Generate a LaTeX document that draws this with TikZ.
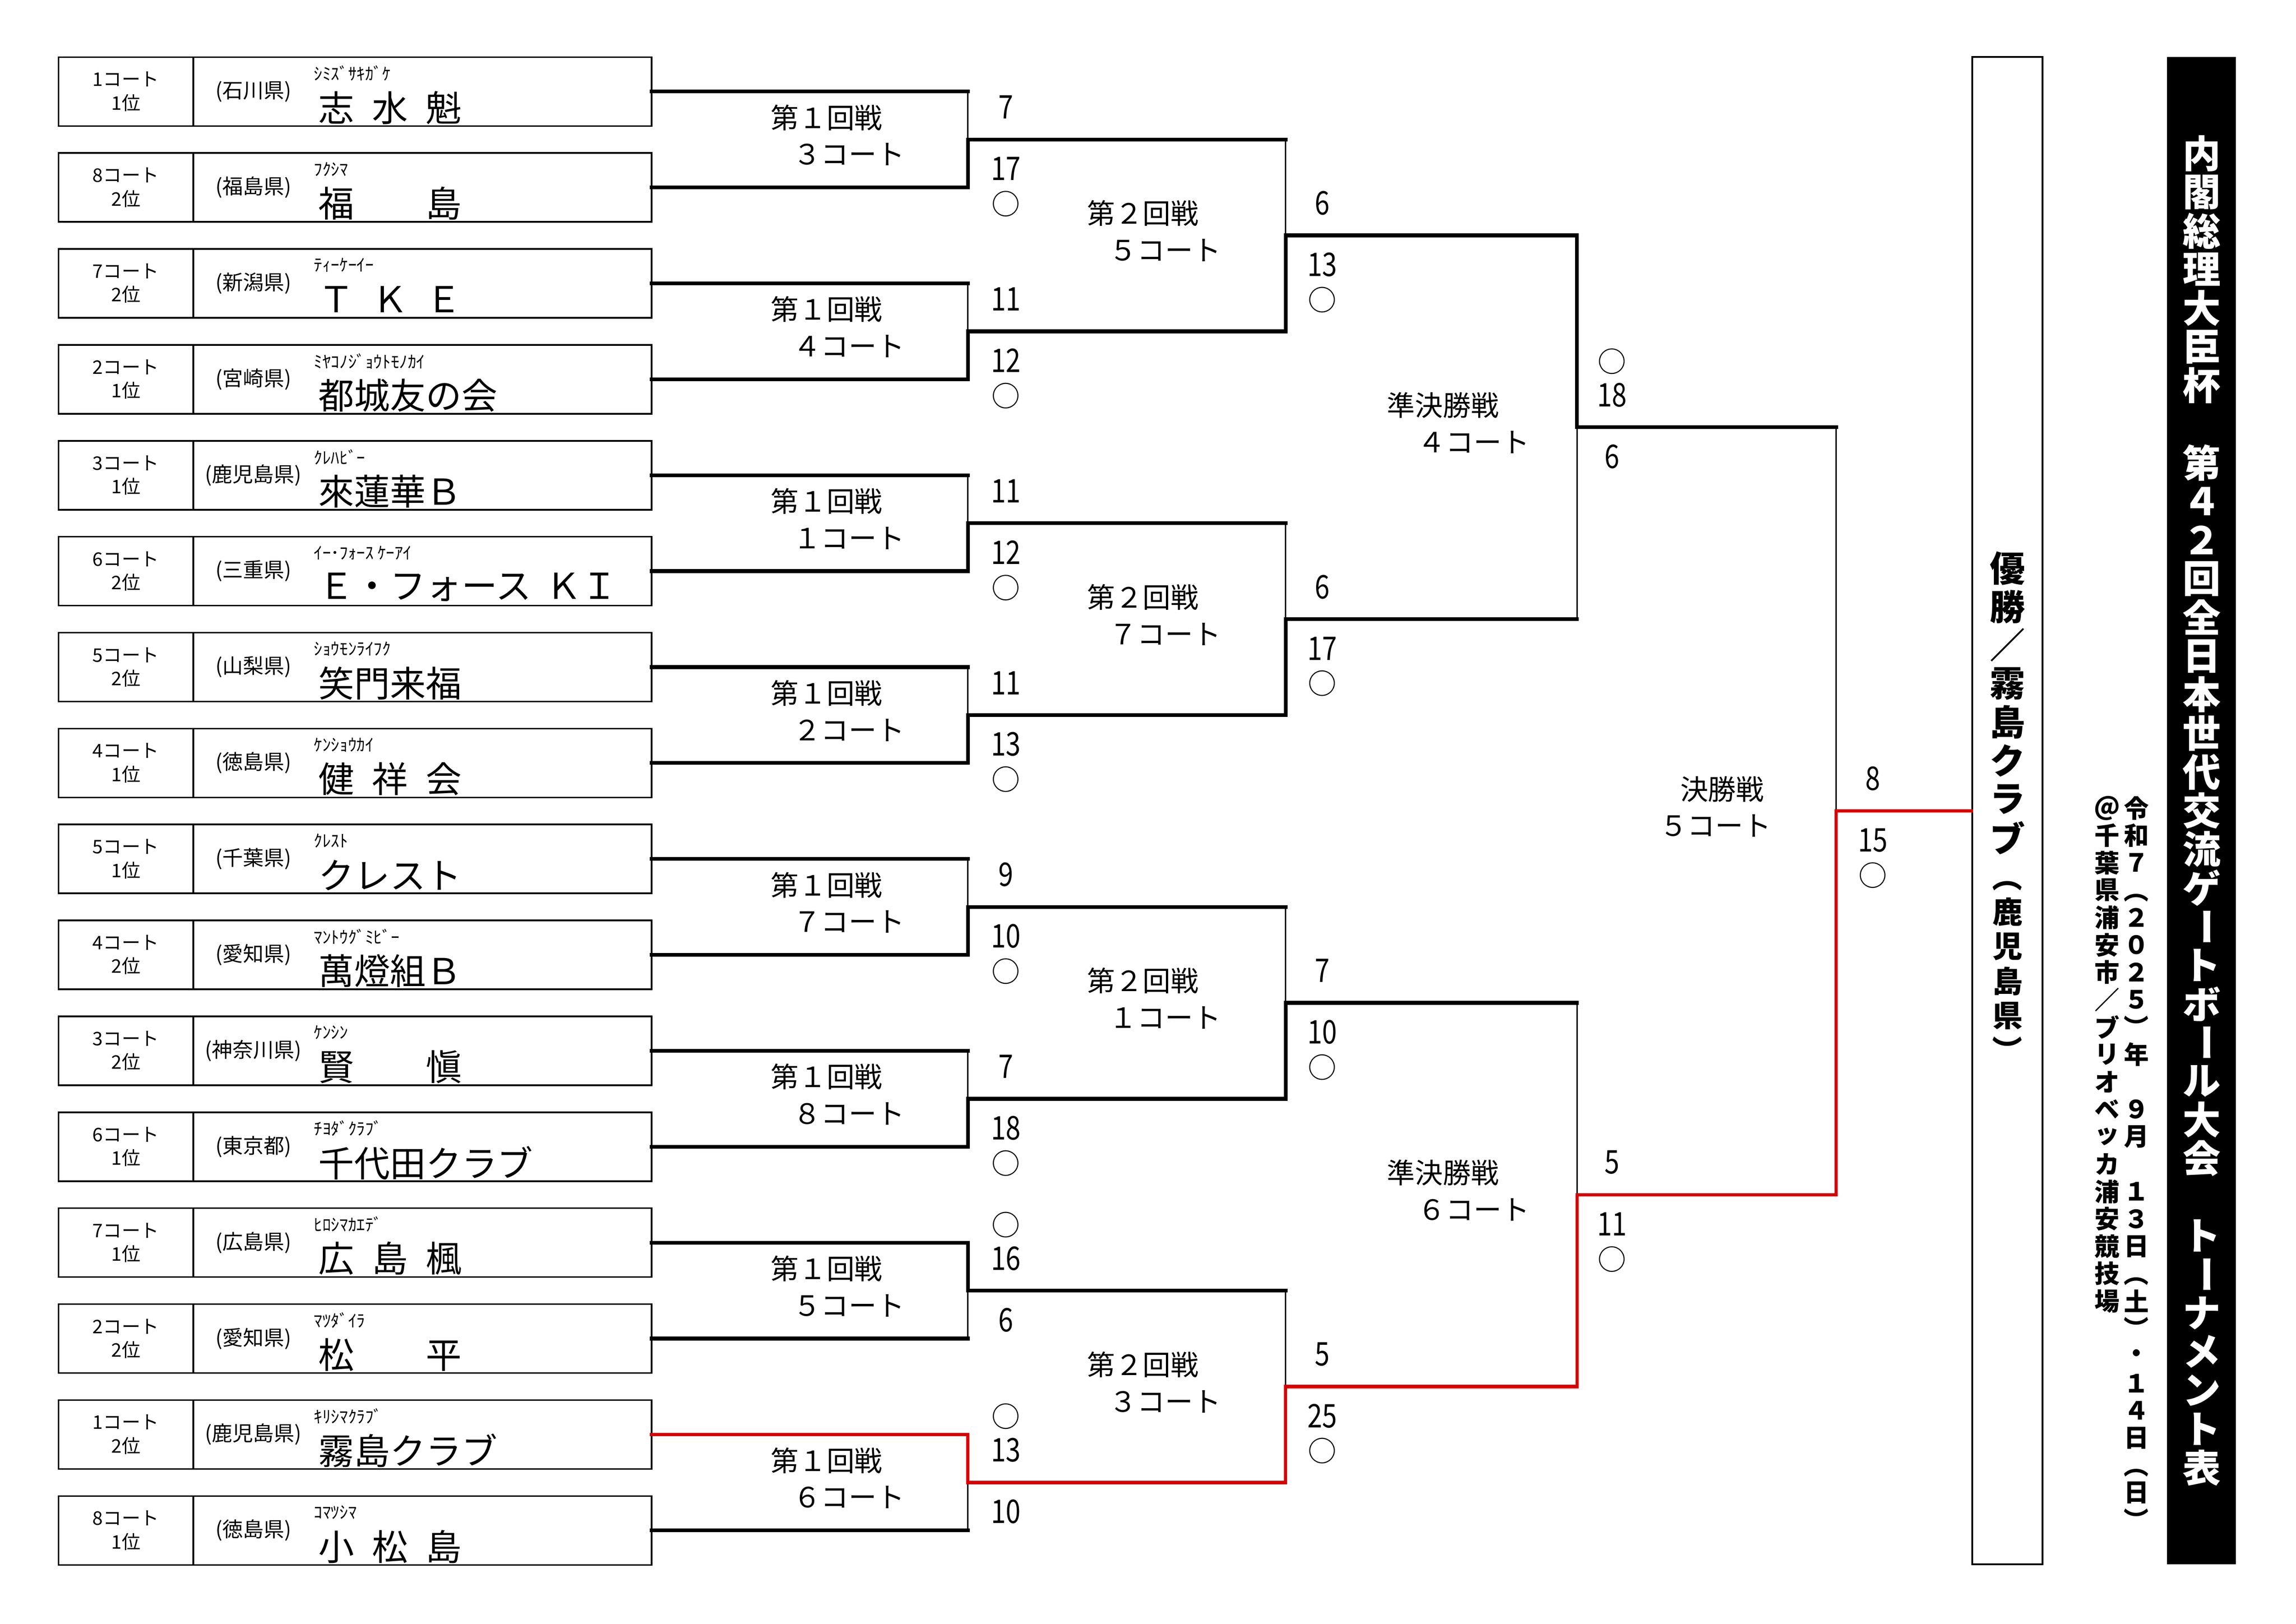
\documentclass[tikz,border=0pt]{standalone}
\usepackage{fontspec}
\usepackage{graphicx}
\setmainfont{Noto Sans CJK JP}
\newfontfamily\narrowfont[FakeStretch=0.82]{Noto Sans CJK JP}
\usetikzlibrary{positioning, calc}
\definecolor{winred}{RGB}{218,0,0}

% vertical text: one character per square cell
\newlength{\vpitch}
\def\vstop{\vstop}
\newcommand{\vtext}[2]{\setlength{\vpitch}{#1}\vbox{\offinterlineskip\vloop#2\vstop}}
\def\vloop#1{\ifx#1\vstop\else\vcell{#1}\expandafter\vloop\fi}
\newcommand{\vcell}[1]{\hbox to \vpitch{\hss\vbox to \vpitch{\vss\hbox{#1}\vss}\hss}}
\newcommand{\vbar}{\rotatebox[origin=c]{-90}{ー}}
\newcommand{\vopen}{\rotatebox[origin=c]{-90}{（}}
\newcommand{\vclose}{\rotatebox[origin=c]{-90}{）}}
\newcommand{\spread}[1]{\makebox[52.8pt][s]{#1}}

\begin{document}
\begin{tikzpicture}[x=0.54pt, y=-0.54pt,
  court/.style={draw, line width=0.6pt, minimum width=49.7pt, minimum height=25.4pt, inner sep=0pt, outer sep=0pt, align=center, font=\fontsize{6.9}{8.7}\selectfont},
  info/.style={draw, line width=0.6pt, minimum width=169pt, minimum height=25.4pt, inner sep=0pt, outer sep=0pt},
  pref/.style={inner sep=0pt, font=\fontsize{7.6}{8}\selectfont},
  furi/.style={anchor=west, inner sep=0pt, font=\fontsize{6.3}{7}\selectfont},
  tname/.style={anchor=west, inner sep=0pt, font=\fontsize{13.2}{14}\selectfont},
  result/.style={inner sep=0pt, font=\narrowfont\fontsize{12}{12}\selectfont},
  winmark/.style={inner sep=0pt, font=\fontsize{10.5}{10.5}\selectfont},
  matchlabel/.style={anchor=west, align=left, inner sep=0pt, font=\fontsize{10.3}{13.5}\selectfont},
  win/.style={line width=1.4pt, line cap=rect},
  lose/.style={line width=0.45pt},
  redwin/.style={line width=1.25pt, line cap=rect, draw=winred},
  champ/.style={draw, line width=0.7pt, minimum width=25.9pt, minimum height=555.7pt, inner sep=0pt, font=\bfseries\fontsize{13}{14}\selectfont},
  titlebar/.style={fill=black, text=white, minimum width=25.4pt, minimum height=555.7pt, inner sep=0pt, font=\bfseries\fontsize{14}{15}\selectfont},
  datecol/.style={anchor=north, inner sep=0pt, font=\bfseries\fontsize{9.2}{10}\selectfont}]
  \useasboundingbox (0,0) rectangle (1568,1108.6);

  % teams
  \node [court] (c1) at (86,62.5) {1コート\\1位};
  \node [info, right = 0pt of c1] (t1) {};
  \node [pref] (p1) at ($(t1.west)+(41,0)$) {(石川県)};
  \node [furi] (f1) at ($(t1.west)+(82,-12.5)$) {ｼﾐｽﾞｻｷｶﾞｹ};
  \node [tname] (n1) at ($(t1.west)+(85,11)$) {\spread{志 水 魁}};

  \node [court] (c2) at (86,128) {8コート\\2位};
  \node [info, right = 0pt of c2] (t2) {};
  \node [pref] (p2) at ($(t2.west)+(41,0)$) {(福島県)};
  \node [furi] (f2) at ($(t2.west)+(82,-12.5)$) {ﾌｸｼﾏ};
  \node [tname] (n2) at ($(t2.west)+(85,11)$) {\spread{福 島}};

  \node [court] (c3) at (86,193.5) {7コート\\2位};
  \node [info, right = 0pt of c3] (t3) {};
  \node [pref] (p3) at ($(t3.west)+(41,0)$) {(新潟県)};
  \node [furi] (f3) at ($(t3.west)+(82,-12.5)$) {ﾃｨｰｹｰｲｰ};
  \node [tname] (n3) at ($(t3.west)+(85,11)$) {\spread{Ｔ Ｋ Ｅ}};

  \node [court] (c4) at (86,259) {2コート\\1位};
  \node [info, right = 0pt of c4] (t4) {};
  \node [pref] (p4) at ($(t4.west)+(41,0)$) {(宮崎県)};
  \node [furi] (f4) at ($(t4.west)+(82,-12.5)$) {ﾐﾔｺﾉｼﾞｮｳﾄﾓﾉｶｲ};
  \node [tname] (n4) at ($(t4.west)+(85,11)$) {都城友の会};

  \node [court] (c5) at (86,324.5) {3コート\\1位};
  \node [info, right = 0pt of c5] (t5) {};
  \node [pref] (p5) at ($(t5.west)+(41,0)$) {(鹿児島県)};
  \node [furi] (f5) at ($(t5.west)+(82,-12.5)$) {ｸﾚﾊﾋﾞｰ};
  \node [tname] (n5) at ($(t5.west)+(85,11)$) {來蓮華Ｂ};

  \node [court] (c6) at (86,390) {6コート\\2位};
  \node [info, right = 0pt of c6] (t6) {};
  \node [pref] (p6) at ($(t6.west)+(41,0)$) {(三重県)};
  \node [furi] (f6) at ($(t6.west)+(82,-12.5)$) {ｲｰ･ﾌｫｰｽ ｹｰｱｲ};
  \node [tname] (n6) at ($(t6.west)+(85,11)$) {Ｅ・フォース\hspace{0.4em}ＫＩ};

  \node [court] (c7) at (86,455.5) {5コート\\2位};
  \node [info, right = 0pt of c7] (t7) {};
  \node [pref] (p7) at ($(t7.west)+(41,0)$) {(山梨県)};
  \node [furi] (f7) at ($(t7.west)+(82,-12.5)$) {ｼｮｳﾓﾝﾗｲﾌｸ};
  \node [tname] (n7) at ($(t7.west)+(85,11)$) {笑門来福};

  \node [court] (c8) at (86,521) {4コート\\1位};
  \node [info, right = 0pt of c8] (t8) {};
  \node [pref] (p8) at ($(t8.west)+(41,0)$) {(徳島県)};
  \node [furi] (f8) at ($(t8.west)+(82,-12.5)$) {ｹﾝｼｮｳｶｲ};
  \node [tname] (n8) at ($(t8.west)+(85,11)$) {\spread{健 祥 会}};

  \node [court] (c9) at (86,586.5) {5コート\\1位};
  \node [info, right = 0pt of c9] (t9) {};
  \node [pref] (p9) at ($(t9.west)+(41,0)$) {(千葉県)};
  \node [furi] (f9) at ($(t9.west)+(82,-12.5)$) {ｸﾚｽﾄ};
  \node [tname] (n9) at ($(t9.west)+(85,11)$) {クレスト};

  \node [court] (c10) at (86,652) {4コート\\2位};
  \node [info, right = 0pt of c10] (t10) {};
  \node [pref] (p10) at ($(t10.west)+(41,0)$) {(愛知県)};
  \node [furi] (f10) at ($(t10.west)+(82,-12.5)$) {ﾏﾝﾄｳｸﾞﾐﾋﾞｰ};
  \node [tname] (n10) at ($(t10.west)+(85,11)$) {萬燈組Ｂ};

  \node [court] (c11) at (86,717.5) {3コート\\2位};
  \node [info, right = 0pt of c11] (t11) {};
  \node [pref] (p11) at ($(t11.west)+(41,0)$) {(神奈川県)};
  \node [furi] (f11) at ($(t11.west)+(82,-12.5)$) {ｹﾝｼﾝ};
  \node [tname] (n11) at ($(t11.west)+(85,11)$) {\spread{賢 愼}};

  \node [court] (c12) at (86,783) {6コート\\1位};
  \node [info, right = 0pt of c12] (t12) {};
  \node [pref] (p12) at ($(t12.west)+(41,0)$) {(東京都)};
  \node [furi] (f12) at ($(t12.west)+(82,-12.5)$) {ﾁﾖﾀﾞｸﾗﾌﾞ};
  \node [tname] (n12) at ($(t12.west)+(85,11)$) {千代田クラブ};

  \node [court] (c13) at (86,848.5) {7コート\\1位};
  \node [info, right = 0pt of c13] (t13) {};
  \node [pref] (p13) at ($(t13.west)+(41,0)$) {(広島県)};
  \node [furi] (f13) at ($(t13.west)+(82,-12.5)$) {ﾋﾛｼﾏｶｴﾃﾞ};
  \node [tname] (n13) at ($(t13.west)+(85,11)$) {\spread{広 島 楓}};

  \node [court] (c14) at (86,914) {2コート\\2位};
  \node [info, right = 0pt of c14] (t14) {};
  \node [pref] (p14) at ($(t14.west)+(41,0)$) {(愛知県)};
  \node [furi] (f14) at ($(t14.west)+(82,-12.5)$) {ﾏﾂﾀﾞｲﾗ};
  \node [tname] (n14) at ($(t14.west)+(85,11)$) {\spread{松 平}};

  \node [court] (c15) at (86,979.5) {1コート\\2位};
  \node [info, right = 0pt of c15] (t15) {};
  \node [pref] (p15) at ($(t15.west)+(41,0)$) {(鹿児島県)};
  \node [furi] (f15) at ($(t15.west)+(82,-12.5)$) {ｷﾘｼﾏｸﾗﾌﾞ};
  \node [tname] (n15) at ($(t15.west)+(85,11)$) {霧島クラブ};

  \node [court] (c16) at (86,1045) {8コート\\1位};
  \node [info, right = 0pt of c16] (t16) {};
  \node [pref] (p16) at ($(t16.west)+(41,0)$) {(徳島県)};
  \node [furi] (f16) at ($(t16.west)+(82,-12.5)$) {ｺﾏﾂｼﾏ};
  \node [tname] (n16) at ($(t16.west)+(85,11)$) {\spread{小 松 島}};

  % match points
  \coordinate (m1) at (661,95.25);
  \coordinate (m2) at (661,226.25);
  \coordinate (m3) at (661,357.25);
  \coordinate (m4) at (661,488.25);
  \coordinate (m5) at (661,619.25);
  \coordinate (m6) at (661,750.25);
  \coordinate (m7) at (661,881.25);
  \coordinate (m8) at (661,1012.25);
  \coordinate (q1) at (878,160.75);
  \coordinate (q2) at (878,422.75);
  \coordinate (q3) at (878,684.75);
  \coordinate (q4) at (878,946.75);
  \coordinate (s1) at (1077,291.75);
  \coordinate (s2) at (1077,815.75);
  \coordinate (fin) at (1254,553.75);

  % right side
  \node [champ] (champ) at (1371,553.5) {};
  \node [inner sep=0pt, font=\bfseries\fontsize{13}{14}\selectfont] (winner) at (1371,552) {\vbox{\vtext{14.2pt}{優勝／霧島クラブ}\hbox to 14.2pt{\hss\fontsize{11.1}{12}\selectfont\vtext{12.8pt}{\vopen 鹿児島県\vclose}\hss}}};
  \node [datecol] (date1) at (1459,542) {\vtext{10.1pt}{令和７\vopen ２０２５\vclose 年　９月　１３日\vopen 土\vclose ・１４日\vopen 日\vclose}};
  \node [datecol] (date2) at (1439,542) {\vtext{10.1pt}{＠千葉県浦安市／ブリオベッカ浦安競技場}};
  \node [titlebar] (title) at (1503.5,553.5) {\vtext{14.25pt}{内閣総理大臣杯　第４２回全日本世代交流ゲ\vbar トボ\vbar ル大会　ト\vbar ナメント表}};

  % round 1
  \node [matchlabel] (m1r) at ($(m1)+(-135,-3)$) {第１回戦\\\hspace*{0.8em}３コート};
  \node [result] (m1a) at ($(m1)+(26,-22)$) {7};
  \node [result] (m1b) at ($(m1)+(26,20)$) {17};
  \node [winmark] (m1w) at ($(m1)+(26,44)$) {○};

  \node [matchlabel] (m2r) at ($(m2)+(-135,-3)$) {第１回戦\\\hspace*{0.8em}４コート};
  \node [result] (m2a) at ($(m2)+(26,-22)$) {11};
  \node [result] (m2b) at ($(m2)+(26,20)$) {12};
  \node [winmark] (m2w) at ($(m2)+(26,44)$) {○};

  \node [matchlabel] (m3r) at ($(m3)+(-135,-3)$) {第１回戦\\\hspace*{0.8em}１コート};
  \node [result] (m3a) at ($(m3)+(26,-22)$) {11};
  \node [result] (m3b) at ($(m3)+(26,20)$) {12};
  \node [winmark] (m3w) at ($(m3)+(26,44)$) {○};

  \node [matchlabel] (m4r) at ($(m4)+(-135,-3)$) {第１回戦\\\hspace*{0.8em}２コート};
  \node [result] (m4a) at ($(m4)+(26,-22)$) {11};
  \node [result] (m4b) at ($(m4)+(26,20)$) {13};
  \node [winmark] (m4w) at ($(m4)+(26,44)$) {○};

  \node [matchlabel] (m5r) at ($(m5)+(-135,-3)$) {第１回戦\\\hspace*{0.8em}７コート};
  \node [result] (m5a) at ($(m5)+(26,-22)$) {9};
  \node [result] (m5b) at ($(m5)+(26,20)$) {10};
  \node [winmark] (m5w) at ($(m5)+(26,44)$) {○};

  \node [matchlabel] (m6r) at ($(m6)+(-135,-3)$) {第１回戦\\\hspace*{0.8em}８コート};
  \node [result] (m6a) at ($(m6)+(26,-22)$) {7};
  \node [result] (m6b) at ($(m6)+(26,20)$) {18};
  \node [winmark] (m6w) at ($(m6)+(26,44)$) {○};

  \node [matchlabel] (m7r) at ($(m7)+(-135,-3)$) {第１回戦\\\hspace*{0.8em}５コート};
  \node [winmark] (m7w) at ($(m7)+(26,-45)$) {○};
  \node [result] (m7a) at ($(m7)+(26,-22)$) {16};
  \node [result] (m7b) at ($(m7)+(26,20)$) {6};

  \node [matchlabel] (m8r) at ($(m8)+(-135,-3)$) {第１回戦\\\hspace*{0.8em}６コート};
  \node [winmark] (m8w) at ($(m8)+(26,-45)$) {○};
  \node [result] (m8a) at ($(m8)+(26,-22)$) {13};
  \node [result] (m8b) at ($(m8)+(26,20)$) {10};

  % round 2
  \node [matchlabel] (q1r) at ($(q1)+(-136,-3)$) {第２回戦\\\hspace*{0.8em}５コート};
  \node [result] (q1a) at ($(q1)+(25,-22)$) {6};
  \node [result] (q1b) at ($(q1)+(25,20)$) {13};
  \node [winmark] (q1w) at ($(q1)+(25,44)$) {○};

  \node [matchlabel] (q2r) at ($(q2)+(-136,-3)$) {第２回戦\\\hspace*{0.8em}７コート};
  \node [result] (q2a) at ($(q2)+(25,-22)$) {6};
  \node [result] (q2b) at ($(q2)+(25,20)$) {17};
  \node [winmark] (q2w) at ($(q2)+(25,44)$) {○};

  \node [matchlabel] (q3r) at ($(q3)+(-136,-3)$) {第２回戦\\\hspace*{0.8em}１コート};
  \node [result] (q3a) at ($(q3)+(25,-22)$) {7};
  \node [result] (q3b) at ($(q3)+(25,20)$) {10};
  \node [winmark] (q3w) at ($(q3)+(25,44)$) {○};

  \node [matchlabel] (q4r) at ($(q4)+(-136,-3)$) {第２回戦\\\hspace*{0.8em}３コート};
  \node [result] (q4a) at ($(q4)+(25,-22)$) {5};
  \node [result] (q4b) at ($(q4)+(25,20)$) {25};
  \node [winmark] (q4w) at ($(q4)+(25,44)$) {○};

  % semi finals and final
  \node [matchlabel] (s1r) at ($(s1)+(-130,-3)$) {準決勝戦\\\hspace*{1.1em}４コート};
  \node [winmark] (s1w) at ($(s1)+(24,-45)$) {○};
  \node [result] (s1a) at ($(s1)+(24,-22)$) {18};
  \node [result] (s1b) at ($(s1)+(24,20)$) {6};

  \node [matchlabel] (s2r) at ($(s2)+(-130,-3)$) {準決勝戦\\\hspace*{1.1em}６コート};
  \node [result] (s2a) at ($(s2)+(24,-22)$) {5};
  \node [result] (s2b) at ($(s2)+(24,20)$) {11};
  \node [winmark] (s2w) at ($(s2)+(24,44)$) {○};

  \node [matchlabel] (finr) at ($(fin)+(-121,-3)$) {\hspace*{0.74em}決勝戦\\５コート};
  \node [result] (fina) at ($(fin)+(25,-22)$) {8};
  \node [result] (finb) at ($(fin)+(25,20)$) {15};
  \node [winmark] (finw) at ($(fin)+(25,44)$) {○};

  % brackets, losing halves
  \draw [lose] (t1.east -| m1) -- (m1);
  \draw [lose] (t3.east -| m2) -- (m2);
  \draw [lose] (t5.east -| m3) -- (m3);
  \draw [lose] (t7.east -| m4) -- (m4);
  \draw [lose] (t9.east -| m5) -- (m5);
  \draw [lose] (t11.east -| m6) -- (m6);
  \draw [lose] (t14.east -| m7) -- (m7);
  \draw [lose] (t16.east -| m8) -- (m8);
  \draw [lose] (m1 -| q1) -- (q1);
  \draw [lose] (m3 -| q2) -- (q2);
  \draw [lose] (m5 -| q3) -- (q3);
  \draw [lose] (m7 -| q4) -- (q4);
  \draw [lose] (q2 -| s1) -- (s1);
  \draw [lose] (q3 -| s2) -- (s2);
  \draw [lose] (s1 -| fin) -- (fin);

  % brackets, winning halves
  \draw [win] (t1.east) -- (t1.east -| m1) (t2.east) -| (m1);
  \draw [win] (t3.east) -- (t3.east -| m2) (t4.east) -| (m2);
  \draw [win] (t5.east) -- (t5.east -| m3) (t6.east) -| (m3);
  \draw [win] (t7.east) -- (t7.east -| m4) (t8.east) -| (m4);
  \draw [win] (t9.east) -- (t9.east -| m5) (t10.east) -| (m5);
  \draw [win] (t11.east) -- (t11.east -| m6) (t12.east) -| (m6);
  \draw [win] (t13.east) -| (m7) (t14.east) -- (t14.east -| m7);
  \draw [win] (t16.east) -- (t16.east -| m8);
  \draw [win] (m1) -- (m1 -| q1) (m2) -| (q1);
  \draw [win] (m3) -- (m3 -| q2) (m4) -| (q2);
  \draw [win] (m5) -- (m5 -| q3) (m6) -| (q3);
  \draw [win] (m7) -- (m7 -| q4);
  \draw [win] (q1) -| (s1) (q2) -- (q2 -| s1);
  \draw [win] (q3) -- (q3 -| s2);
  \draw [win] (s1) -- (s1 -| fin);

  % champion path
  \draw [redwin] (t15.east) -| (m8) -| (q4) -| (s2) -| (fin) -- (fin -| champ.west);
\end{tikzpicture}
\end{document}
